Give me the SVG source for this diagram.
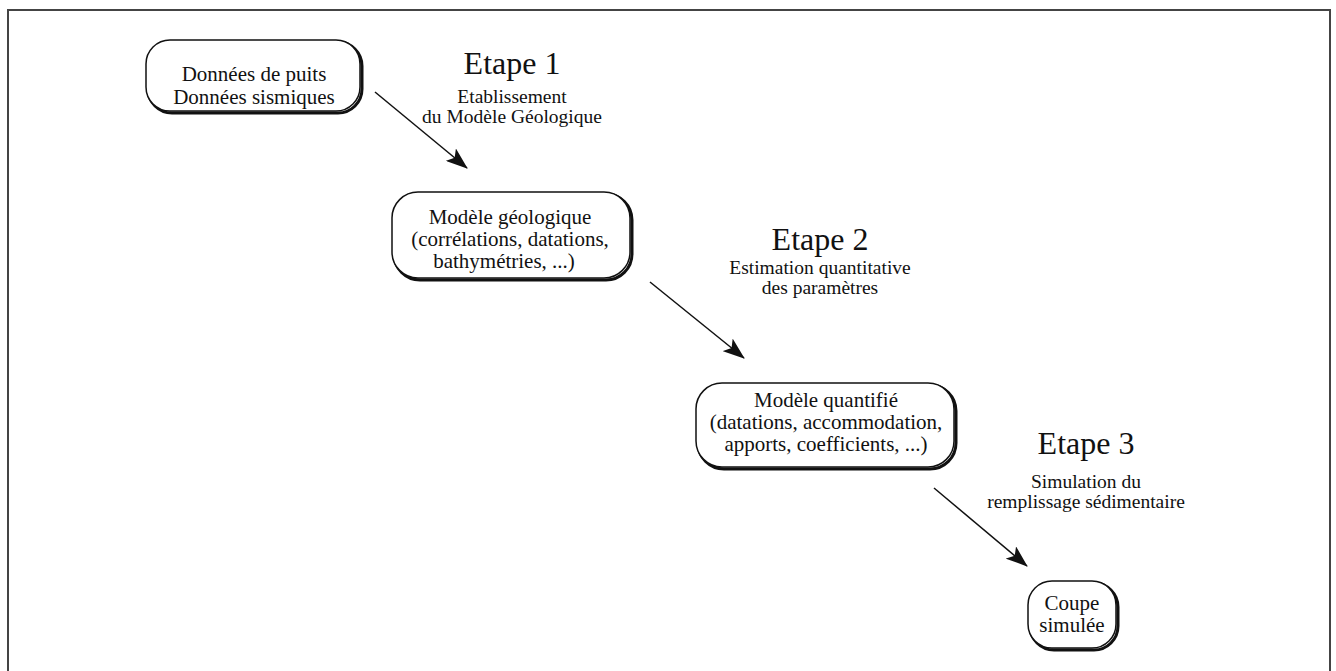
<svg xmlns="http://www.w3.org/2000/svg" width="1336" height="671" viewBox="0 0 1336 671">
<defs>
<marker id="ah" viewBox="0 0 22 16" refX="21" refY="8" markerWidth="22" markerHeight="16" markerUnits="userSpaceOnUse" orient="auto">
<path d="M0,0 L22,8 L0,16 L5,8 Z" fill="#111"/>
</marker>
<style>
text{font-family:"Liberation Serif","Times New Roman",serif;fill:#111;text-anchor:middle}
.bt{font-size:21px}
.et{font-size:32px}
.st{font-size:19.5px}
.sh{fill:none;stroke:#111;stroke-width:3}
.bx{fill:#fff;stroke:#111;stroke-width:1.5}
.cn{stroke:#111;stroke-width:1.5;fill:none;marker-end:url(#ah)}
</style>
</defs>
<rect width="1336" height="671" fill="#fff"/>
<rect x="8" y="10" width="1322" height="700" fill="none" stroke="#444" stroke-width="2"/>
<g id="connectors">
<line class="cn" x1="375" y1="92" x2="467" y2="168"/>
<line class="cn" x1="650" y1="282" x2="744" y2="358"/>
<line class="cn" x1="934" y1="488" x2="1027" y2="566"/>
</g>
<g id="n1">
<rect class="sh" x="148" y="42" width="214" height="71" rx="24"/>
<rect class="bx" x="146" y="40" width="214" height="71" rx="24"/>
<text class="bt" x="254" y="81">Données de puits</text>
<text class="bt" x="254" y="104">Données sismiques</text>
</g>
<g id="step1">
<text class="et" x="512" y="74">Etape 1</text>
<text class="st" x="512" y="103">Etablissement</text>
<text class="st" x="512" y="123">du Modèle Géologique</text>
</g>
<g id="n2">
<rect class="sh" x="394" y="194" width="238" height="86" rx="26"/>
<rect class="bx" x="392" y="192" width="238" height="86" rx="26"/>
<text class="bt" x="510" y="224">Modèle géologique</text>
<text class="bt" x="510" y="246">(corrélations, datations,</text>
<text class="bt" x="504" y="268">bathymétries, ...)</text>
</g>
<g id="step2">
<text class="et" x="820" y="250">Etape 2</text>
<text class="st" x="820" y="274">Estimation quantitative</text>
<text class="st" x="820" y="294">des paramètres</text>
</g>
<g id="n3">
<rect class="sh" x="698" y="385" width="258" height="84" rx="26"/>
<rect class="bx" x="696" y="383" width="258" height="84" rx="26"/>
<text class="bt" x="826" y="407">Modèle quantifié</text>
<text class="bt" x="826" y="429">(datations, accommodation,</text>
<text class="bt" x="826" y="451">apports, coefficients, ...)</text>
</g>
<g id="step3">
<text class="et" x="1086" y="454">Etape 3</text>
<text class="st" x="1086" y="488">Simulation du</text>
<text class="st" x="1086" y="508">remplissage sédimentaire</text>
</g>
<g id="n4">
<rect class="sh" x="1030" y="583" width="88" height="67" rx="24"/>
<rect class="bx" x="1028" y="581" width="88" height="67" rx="24"/>
<text class="bt" x="1072" y="610">Coupe</text>
<text class="bt" x="1072" y="632">simulée</text>
</g>
</svg>
